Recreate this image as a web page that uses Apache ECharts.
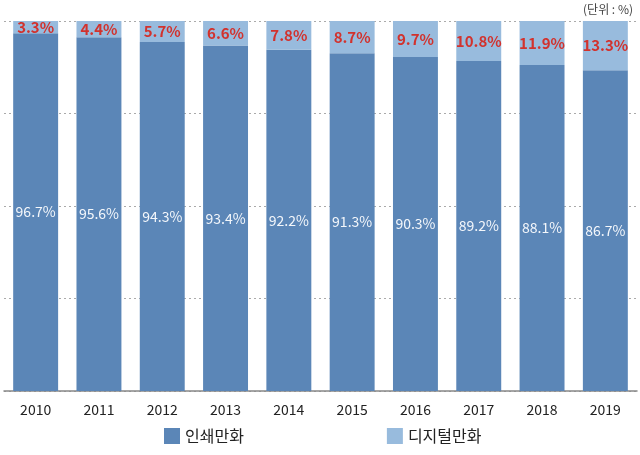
<!DOCTYPE html>
<html>
<head>
<meta charset="utf-8">
<script src="https://cdn.jsdelivr.net/npm/echarts@6/dist/echarts.min.js"></script>
<style>
  html, body { margin: 0; padding: 0; background: #fff; }
  #chart { width: 640px; height: 455px; }
</style>
</head>
<body>
<div id="chart"></div>
<script>
var years = ['2010', '2011', '2012', '2013', '2014', '2015', '2016', '2017', '2018', '2019'];
var printShare = [96.7, 95.6, 94.3, 93.4, 92.2, 91.3, 90.3, 89.2, 88.1, 86.7];
var digitalShare = [3.3, 4.4, 5.7, 6.6, 7.8, 8.7, 9.7, 10.8, 11.9, 13.3];

var font = "'Noto Sans CJK KR', 'Noto Sans', sans-serif";
var chart = echarts.init(document.getElementById('chart'));

chart.setOption({
    animation: false,
    textStyle: { fontFamily: font },
    graphic: [{
        type: 'text',
        right: 7,
        top: 3,
        style: { text: '(단위 : %)', fontSize: 12, fill: '#444', fontFamily: font }
    }],
    legend: {
        bottom: 6,
        left: 159,
        itemWidth: 16,
        itemHeight: 16,
        itemGap: 143,
        icon: 'rect',
        textStyle: { fontSize: 16, color: '#222', fontFamily: font },
        data: ['인쇄만화', '디지털만화']
    },
    grid: { left: 4, right: 3, top: 21, bottom: 64 },
    xAxis: {
        type: 'category',
        data: years,
        axisTick: { show: false },
        axisLine: { lineStyle: { color: '#888', width: 1.5 } },
        axisLabel: { fontSize: 14, color: '#222', margin: 12, fontFamily: font }
    },
    yAxis: {
        type: 'value',
        min: 0,
        max: 100,
        interval: 25,
        axisLabel: { show: false },
        axisLine: { show: false },
        axisTick: { show: false },
        splitLine: { lineStyle: { color: '#aaa', type: [2, 3], width: 1 } }
    },
    series: [{
        name: '인쇄만화',
        type: 'bar',
        stack: 'total',
        barCategoryGap: '29%',
        data: printShare,
        itemStyle: { color: '#5b86b7' },
        label: {
            show: true,
            position: 'inside',
            formatter: '{c}%',
            color: '#f4f7fb',
            fontSize: 14,
            fontFamily: font
        }
    }, {
        name: '디지털만화',
        type: 'bar',
        stack: 'total',
        data: digitalShare,
        itemStyle: { color: '#98bbdd' },
        label: {
            show: true,
            position: 'inside',
            formatter: '{c}%',
            color: '#d2322d',
            fontSize: 15,
            fontWeight: 'bold',
            fontFamily: font
        }
    }]
});
</script>
</body>
</html>
